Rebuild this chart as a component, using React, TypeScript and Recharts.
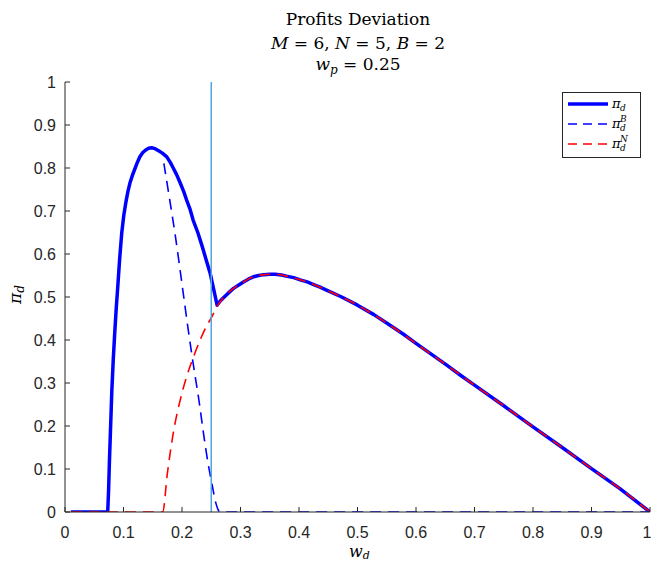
import React from "react";
import { LineChart, Line, XAxis, YAxis, ReferenceLine, Legend } from "recharts";

// pi_d (total deviation profit)
const piX = [0.01, 0.073, 0.0745, 0.076, 0.078, 0.08, 0.0825, 0.085, 0.0875, 0.09, 0.0935, 0.097, 0.1005, 0.104, 0.1075, 0.111, 0.1155, 0.12, 0.124, 0.128, 0.133, 0.138, 0.143, 0.148, 0.154, 0.16, 0.167, 0.174, 0.18, 0.185, 0.191, 0.197, 0.203, 0.208, 0.214, 0.219, 0.227, 0.234, 0.241, 0.248, 0.254, 0.26, 0.265, 0.27, 0.279, 0.288, 0.297, 0.305, 0.314, 0.322, 0.331, 0.34, 0.35, 0.359, 0.37, 0.38, 0.391, 0.402, 0.414, 0.425, 0.436, 0.447, 0.473, 0.5, 0.528, 0.555, 0.578, 0.6, 0.626, 0.652, 0.676, 0.7, 0.75, 0.8, 0.85, 0.9, 0.948, 1.0];
const piY = [0, 0, 0.05, 0.12, 0.2, 0.28, 0.355, 0.416, 0.472, 0.52, 0.59, 0.649, 0.69, 0.72, 0.745, 0.765, 0.784, 0.8, 0.814, 0.826, 0.836, 0.842, 0.846, 0.847, 0.845, 0.84, 0.834, 0.826, 0.813, 0.8, 0.784, 0.765, 0.745, 0.725, 0.703, 0.679, 0.65, 0.62, 0.588, 0.556, 0.519, 0.481, 0.49, 0.497, 0.509, 0.52, 0.528, 0.535, 0.542, 0.547, 0.55, 0.552, 0.553, 0.553, 0.551, 0.548, 0.545, 0.54, 0.535, 0.529, 0.523, 0.516, 0.5, 0.481, 0.459, 0.435, 0.414, 0.392, 0.367, 0.342, 0.318, 0.295, 0.247, 0.198, 0.15, 0.101, 0.055, 0];

// pi_d^B
const piBX = [0.169, 0.179, 0.188, 0.2, 0.21, 0.219, 0.23, 0.236, 0.245, 0.251, 0.258, 0.265, 0.3, 0.5, 0.7, 0.9, 1.0];
const piBY = [0.811, 0.726, 0.648, 0.53, 0.43, 0.346, 0.25, 0.19, 0.11, 0.067, 0.02, 0, 0, 0, 0, 0, 0];

// pi_d^N
const piNX = [0.01, 0.1, 0.167, 0.175, 0.185, 0.196, 0.208, 0.22, 0.231, 0.241, 0.251, 0.26, 0.27, 0.288, 0.305, 0.322, 0.34, 0.359, 0.38, 0.402, 0.425, 0.447, 0.5, 0.555, 0.6, 0.652, 0.7, 0.75, 0.8, 0.85, 0.9, 0.948, 1.0];
const piNY = [0, 0, 0, 0.09, 0.183, 0.255, 0.315, 0.362, 0.4, 0.43, 0.454, 0.478, 0.497, 0.52, 0.535, 0.547, 0.552, 0.553, 0.548, 0.54, 0.529, 0.516, 0.481, 0.435, 0.392, 0.342, 0.295, 0.247, 0.198, 0.15, 0.101, 0.055, 0];

const ticks = [0, 0.1, 0.2, 0.3, 0.4, 0.5, 0.6, 0.7, 0.8, 0.9, 1];
const wp = 0.25;

const toPts = (xs: number[], ys: number[]) => xs.map((x, i) => ({ x, y: ys[i] }));

const axisColor = "#262626";
const tickFont = { fontFamily: "Liberation Sans, Arial, sans-serif", fontSize: 16, fill: axisColor };
const serif = "DejaVu Serif, Liberation Serif, serif";

const legendItems = [
  { sup: "", color: "#0000ff", width: 3.5, dash: undefined as string | undefined },
  { sup: "B", color: "#0000ff", width: 1.5, dash: "9 6" },
  { sup: "N", color: "#ff0000", width: 1.5, dash: "9 6" },
];

function LegendBox() {
  return (
    <svg width={79} height={66} style={{ display: "block" }}>
      <rect x={0.5} y={0.5} width={78} height={65} fill="#fff" stroke="#262626" strokeWidth={1} />
      {legendItems.map((it, i) => {
        const y = 12 + i * 20;
        return (
          <g key={i}>
            <line x1={6} x2={46} y1={y} y2={y} stroke={it.color} strokeWidth={it.width} strokeDasharray={it.dash} />
            <text x={50} y={y + 4} fontFamily={serif} fontSize={13} fontStyle="italic" fill="#000">π</text>
            <text x={58} y={y + 7} fontFamily={serif} fontSize={9} fontStyle="italic" fill="#000">d</text>
            {it.sup ? (
              <text x={58} y={y - 2} fontFamily={serif} fontSize={9} fontStyle="italic" fill="#000">{it.sup}</text>
            ) : null}
          </g>
        );
      })}
    </svg>
  );
}

export default function App() {
  return (
    <div style={{ position: "absolute", left: 0, top: 0, background: "#fff" }}>
      <LineChart width={651} height={563} margin={{ top: 82, right: 1, bottom: 21, left: 25 }}>
        <XAxis
          type="number"
          dataKey="x"
          domain={[0, 1]}
          ticks={ticks}
          allowDataOverflow
          height={30}
          stroke={axisColor}
          tickSize={-5}
          tickMargin={20}
          tick={tickFont}
          tickFormatter={(v: number) => String(v)}
        />
        <YAxis
          type="number"
          dataKey="y"
          domain={[0, 1]}
          ticks={ticks}
          allowDataOverflow
          width={40}
          stroke={axisColor}
          tickSize={-5}
          tickMargin={14}
          tick={tickFont}
          tickFormatter={(v: number) => String(v)}
        />
        <Line
          data={toPts(piX, piY)}
          dataKey="y"
          type="linear"
          stroke="#0000ff"
          strokeWidth={3.5}
          strokeLinejoin="round"
          dot={false}
          isAnimationActive={false}
        />
        <Line
          data={toPts(piBX, piBY)}
          dataKey="y"
          type="monotone"
          stroke="#0000ff"
          strokeWidth={1.6}
          strokeDasharray="11 7"
          dot={false}
          isAnimationActive={false}
        />
        <Line
          data={toPts(piNX, piNY)}
          dataKey="y"
          type="monotone"
          stroke="#ff0000"
          strokeWidth={1.6}
          strokeDasharray="11 7"
          dot={false}
          isAnimationActive={false}
        />
        <ReferenceLine x={wp} stroke="#4da6de" strokeWidth={1.5} />
        <Legend
          layout="vertical"
          align="center"
          verticalAlign="middle"
          content={() => <LegendBox />}
          wrapperStyle={{ left: 562, top: 92, width: 79, height: 66 }}
        />
        <text x={358} y={25} textAnchor="middle" fontFamily={serif} fontSize={17} fill="#000">
          Profits Deviation
        </text>
        <text x={358} y={49} textAnchor="middle" fontFamily={serif} fontSize={17} fill="#000">
          <tspan fontStyle="italic">M</tspan> = 6, <tspan fontStyle="italic">N</tspan> = 5, <tspan fontStyle="italic">B</tspan> = 2
        </text>
        <text x={358} y={70} textAnchor="middle" fontFamily={serif} fontSize={17} fill="#000">
          <tspan fontStyle="italic">w</tspan>
          <tspan fontStyle="italic" fontSize={12} dy={4}>p</tspan>
          <tspan dy={-4}> = 0.25</tspan>
        </text>
        <text x={349} y={557} fontFamily={serif} fontSize={16} fontStyle="italic" fill="#000">
          w<tspan fontSize={11} dy={2}>d</tspan>
        </text>
        <text transform="translate(21 304) rotate(-90)" fontFamily={serif} fontSize={17} fontStyle="italic" fill="#000">
          π<tspan fontSize={12} dy={3}>d</tspan>
        </text>
      </LineChart>
    </div>
  );
}
